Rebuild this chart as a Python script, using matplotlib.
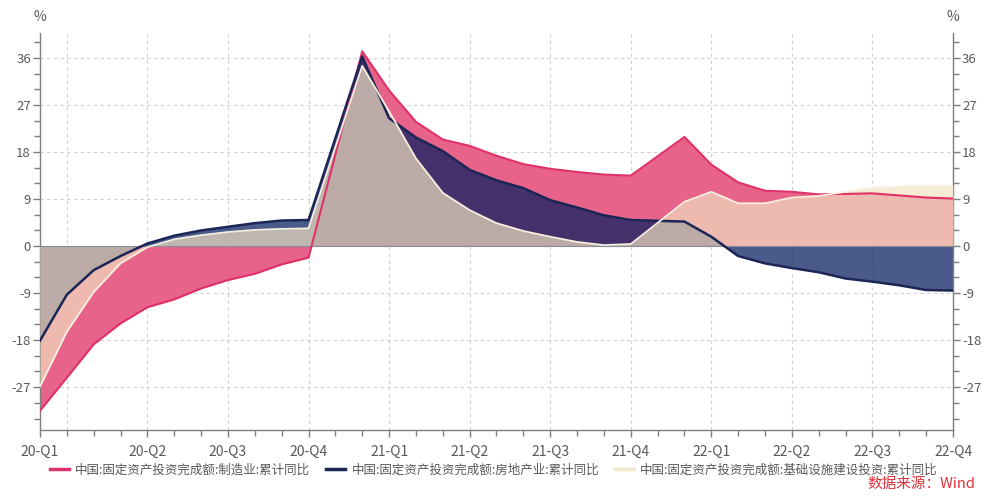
import matplotlib
matplotlib.use("Agg")
import matplotlib.pyplot as plt
from matplotlib.lines import Line2D
import numpy as np
import pandas as pd

plt.rcParams['font.family'] = ['Noto Sans CJK SC', 'DejaVu Sans']
plt.rcParams['axes.unicode_minus'] = False

# months with data (Jan is merged into Jan-Feb cumulative figure)
months = ['2020-02', '2020-03', '2020-04', '2020-05', '2020-06', '2020-07', '2020-08',
          '2020-09', '2020-10', '2020-11', '2020-12',
          '2021-02', '2021-03', '2021-04', '2021-05', '2021-06', '2021-07', '2021-08',
          '2021-09', '2021-10', '2021-11', '2021-12',
          '2022-02', '2022-03', '2022-04', '2022-05', '2022-06', '2022-07', '2022-08',
          '2022-09', '2022-10', '2022-11', '2022-12']

manufacturing = [-31.5, -25.2, -18.8, -14.8, -11.7, -10.2, -8.1, -6.5, -5.3, -3.5, -2.2,
                 37.3, 29.8, 23.8, 20.4, 19.2, 17.3, 15.7, 14.8, 14.2, 13.7, 13.5,
                 20.9, 15.6, 12.2, 10.6, 10.4, 9.9, 10.0, 10.1, 9.7, 9.3, 9.1]

real_estate = [-18.1, -9.3, -4.6, -1.9, 0.5, 2.0, 3.0, 3.7, 4.4, 4.9, 5.0,
               36.3, 24.5, 20.8, 18.2, 14.6, 12.6, 11.1, 8.8, 7.4, 5.9, 5.0,
               4.7, 1.8, -1.9, -3.3, -4.2, -5.0, -6.2, -6.8, -7.5, -8.4, -8.5]

infrastructure = [-26.9, -16.4, -8.8, -3.3, -0.2, 1.3, 2.1, 2.7, 3.1, 3.3, 3.4,
                  34.5, 25.8, 16.8, 10.2, 6.9, 4.4, 2.9, 1.8, 0.8, 0.2, 0.4,
                  8.5, 10.4, 8.2, 8.2, 9.3, 9.6, 10.4, 11.2, 11.4, 11.6, 11.5]

labels = ['中国:固定资产投资完成额:制造业:累计同比',
          '中国:固定资产投资完成额:房地产业:累计同比',
          '中国:固定资产投资完成额:基础设施建设投资:累计同比']

tick_months = ['2020-02', '2020-06', '2020-09', '2020-12', '2021-03', '2021-06',
               '2021-09', '2021-12', '2022-03', '2022-06', '2022-09', '2022-12']
tick_labels = ['20-Q1', '20-Q2', '20-Q3', '20-Q4', '21-Q1', '21-Q2',
               '21-Q3', '21-Q4', '22-Q1', '22-Q2', '22-Q3', '22-Q4']
grid_months = ['2020-03', '2020-06', '2020-09', '2020-12', '2021-03', '2021-06',
               '2021-09', '2021-12', '2022-03', '2022-06', '2022-09']


def month_index(m):
    p = pd.PeriodIndex(m, freq='M')
    return np.asarray((p.year - 2020) * 12 + p.month - 2)


x = month_index(months)
xt = month_index(tick_months)
xg = month_index(grid_months)

fig = plt.figure(figsize=(9.82, 4.97), dpi=100)
ax = fig.add_axes([0.0407, 0.1348, 0.9298, 0.7988])

grey = '#7f7f7f'
txt = '#595959'

# grid
for g in xg:
    ax.axvline(g, color='#d0d0d0', lw=0.8, ls=(0, (3, 3)), zorder=0)
for g in [-27, -18, -9, 9, 18, 27, 36]:
    ax.axhline(g, color='#d0d0d0', lw=0.8, ls=(0, (3, 3)), zorder=0)

# areas
ax.fill_between(x, 0, manufacturing, color='#E8638A', lw=0, zorder=1)
ax.fill_between(x, 0, real_estate, color='#071D5F', alpha=0.73, lw=0, zorder=2)
ax.fill_between(x, 0, infrastructure, color='#F2E2C0', alpha=0.69, lw=0, zorder=3)

ax.axhline(0, color='#8a8a9a', lw=0.8, zorder=4)

ax.plot(x, manufacturing, color='#E0306A', lw=1.5, zorder=5)
ax.plot(x, real_estate, color='#1B2656', lw=1.8, zorder=6)
ax.plot(x, infrastructure, color='#F7EFDF', lw=1.3, zorder=7)

ax.set_xlim(0, 34)
ax.set_ylim(-35.2, 40.8)

ax.set_xticks(xt)
ax.set_xticklabels(tick_labels)
ax.set_xticks(np.arange(0, 35), minor=True)
ax.set_yticks([-27, -18, -9, 0, 9, 18, 27, 36])
ax.set_yticks(np.arange(-33, 40, 3), minor=True)

ax.tick_params(axis='both', which='both', direction='out', color=grey,
               labelcolor=txt, labelsize=9.5)
ax.tick_params(axis='y', which='both', left=True, right=True,
               labelleft=True, labelright=True, pad=1.5)
ax.tick_params(which='major', length=5, width=1)
ax.tick_params(which='minor', length=4, width=1)
ax.tick_params(axis='x', pad=6, labelsize=10)

for s in ['left', 'right', 'bottom']:
    ax.spines[s].set_color(grey)
    ax.spines[s].set_linewidth(1)
ax.spines['top'].set_visible(False)

fig.text(0.0407, 0.965, '%', ha='center', va='center', color=txt, fontsize=10)
fig.text(0.9705, 0.965, '%', ha='center', va='center', color=txt, fontsize=10)

handles = [Line2D([], [], color='#E0306A', lw=2.5),
           Line2D([], [], color='#1B2656', lw=2.5),
           Line2D([], [], color='#F3E8CF', lw=2.5)]
leg = fig.legend(handles, labels, loc='center', bbox_to_anchor=(0.503, 0.054), ncol=3,
                 frameon=False, fontsize=9, handlelength=1.5, handletextpad=0.5,
                 columnspacing=1.3)
for t in leg.get_texts():
    t.set_color(txt)

fig.text(0.993, 0.012, '数据来源：Wind', color='#E0303A', ha='right', va='bottom',
         fontsize=10.5)

fig.savefig('out.png', dpi=100)
